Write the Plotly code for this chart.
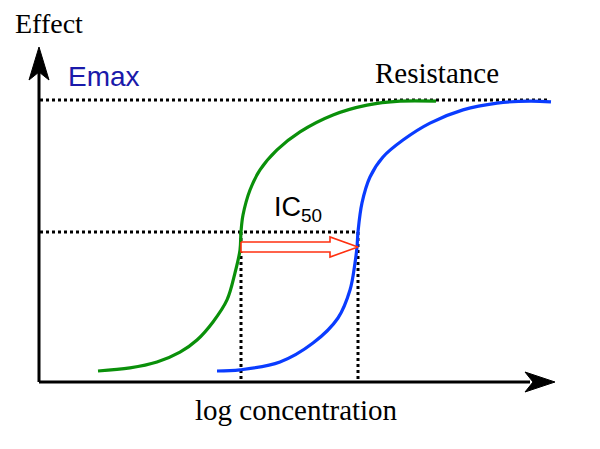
import plotly.graph_objects as go

# dose-response curves (x: log concentration, y: effect %)
sensitive_x = [0.58, 0.90, 1.17, 1.40, 1.57, 1.73, 1.87, 1.95, 2.00, 2.01, 2.03,
               2.10, 2.20, 2.37, 2.60, 2.93, 3.27, 3.60, 3.96]
sensitive_y = [3.9, 5.0, 7.1, 10.6, 14.9, 21.3, 29.1, 38.7, 46.8, 53.2, 59.2,
               68.1, 75.2, 82.3, 88.7, 94.7, 98.2, 99.6, 99.6]
resistant_x = [1.77, 2.00, 2.40, 2.73, 2.98, 3.10, 3.15, 3.17, 3.18, 3.22,
               3.30, 3.43, 3.63, 3.90, 4.23, 4.57, 4.90, 5.11]
resistant_y = [3.9, 4.3, 7.1, 13.8, 22.7, 32.6, 42.2, 47.9, 53.2, 63.5,
               72.7, 79.8, 85.8, 91.8, 96.5, 98.9, 99.6, 99.3]

emax = 100
ic50_level = 53.2
ic50_sensitive = 2.01
ic50_resistant = 3.18

# pixel scale of the drawing (px per data unit), used for arrows only
SX, SY = 100.0, 2.82
X0_PX, Y0_PX = 40, 382
OFF = 8  # page body margin


def px_x(px):
    return (px - X0_PX) / SX


def px_y(py):
    return (Y0_PX - py) / SY


fig = go.Figure()

dot = dict(color="black", width=3, dash="3px,3px")

# reference dotted lines
fig.add_trace(go.Scatter(x=[0, px_x(548)], y=[emax, emax], mode="lines", line=dot))
fig.add_trace(go.Scatter(x=[0, ic50_resistant], y=[ic50_level, ic50_level],
                         mode="lines", line=dot))
for xv in (ic50_sensitive, ic50_resistant):
    fig.add_trace(go.Scatter(x=[xv, xv], y=[ic50_level, 0], mode="lines", line=dot))

# curves
fig.add_trace(go.Scatter(x=sensitive_x, y=sensitive_y, mode="lines",
                         line=dict(color="#0a900a", width=3.2, shape="spline", smoothing=1.0)))
fig.add_trace(go.Scatter(x=resistant_x, y=resistant_y, mode="lines",
                         line=dict(color="#0a3cff", width=3.2, shape="spline", smoothing=1.0)))

# hollow red shift arrow
shaft_h = 5 / SY
head_h = 10 / SY
head_len = 28 / SX
ay = px_y(247)
xa, xb = ic50_sensitive, ic50_resistant
arr_x = [xa, xb - head_len, xb - head_len, xb, xb - head_len, xb - head_len, xa, xa]
arr_y = [ay + shaft_h, ay + shaft_h, ay + head_h, ay, ay - head_h, ay - shaft_h,
         ay - shaft_h, ay + shaft_h]
fig.add_trace(go.Scatter(x=arr_x, y=arr_y, mode="lines", fill="toself",
                         fillcolor="white", line=dict(color="#ff3010", width=1.6)))

# axes with arrowheads
ax_x0 = px_x(39)
fig.add_trace(go.Scatter(x=[ax_x0, px_x(530)], y=[0, 0], mode="lines",
                         line=dict(color="black", width=3)))
fig.add_trace(go.Scatter(x=[ax_x0, ax_x0], y=[0, px_y(70)], mode="lines",
                         line=dict(color="black", width=3)))

tip = px_x(555)
fig.add_trace(go.Scatter(
    x=[tip, tip - 30 / SX, tip - 22 / SX, tip - 30 / SX, tip],
    y=[0, 10 / SY, 0, -10 / SY, 0],
    mode="lines", fill="toself", fillcolor="black", line=dict(color="black", width=1)))
tipy = px_y(47)
fig.add_trace(go.Scatter(
    x=[ax_x0, ax_x0 + 10 / SX, ax_x0, ax_x0 - 10 / SX, ax_x0],
    y=[tipy, tipy - 33 / SY, tipy - 25 / SY, tipy - 33 / SY, tipy],
    mode="lines", fill="toself", fillcolor="black", line=dict(color="black", width=1)))

serif = "Liberation Serif, Times New Roman, serif"
sans = "Liberation Sans, Arial, sans-serif"
labels = [
    ("Effect", px_x(49), px_y(23), serif, 28, "black"),
    ("Emax", px_x(104), px_y(76), sans, 28, "#1a1aaa"),
    ("Resistance", px_x(437), px_y(73), serif, 29, "black"),
    ("IC<sub>50</sub>", px_x(298), px_y(209), sans, 27, "black"),
    ("log concentration", px_x(296), px_y(410), serif, 29, "black"),
]
for text, xv, yv, fam, size, col in labels:
    fig.add_annotation(x=xv, y=yv, text=text, showarrow=False,
                       font=dict(family=fam, size=size, color=col),
                       xanchor="center", yanchor="middle", borderpad=0)

fig.update_xaxes(range=[px_x(OFF), px_x(600 + OFF)], visible=False)
fig.update_yaxes(range=[px_y(449 + OFF), px_y(OFF)], visible=False)
fig.update_layout(width=600, height=449, margin=dict(l=0, r=0, t=0, b=0),
                  showlegend=False, plot_bgcolor="white", paper_bgcolor="white")

fig.write_html("out.html")
